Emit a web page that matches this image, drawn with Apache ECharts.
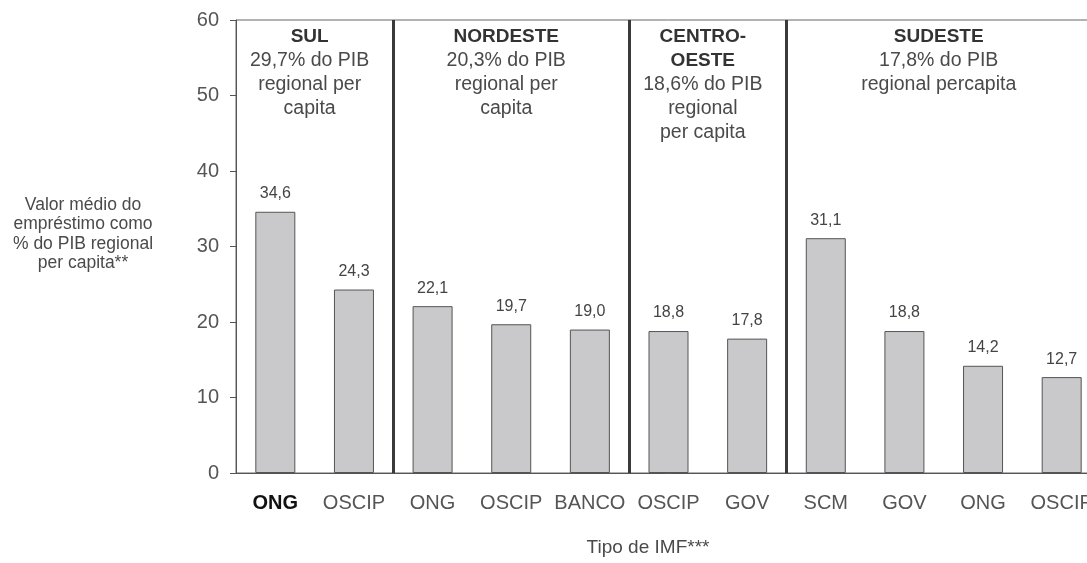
<!DOCTYPE html>
<html>
<head>
<meta charset="utf-8">
<script src="https://cdn.jsdelivr.net/npm/echarts@6/dist/echarts.min.js"></script>
<style>
  html, body { margin: 0; padding: 0; overflow: hidden; background: #fff; }
  #chart { width: 1101px; height: 563px; }
</style>
</head>
<body>
<div id="chart"></div>
<script>
// dados do grafico
var categorias = ['ONG', 'OSCIP', 'ONG', 'OSCIP', 'BANCO', 'OSCIP', 'GOV', 'SCM', 'GOV', 'ONG', 'OSCIP'];
var valores = [34.6, 24.3, 22.1, 19.7, 19.0, 18.8, 17.8, 31.1, 18.8, 14.2, 12.7];
var regioesNome = ['SUL', 'NORDESTE', 'CENTRO-\nOESTE', 'SUDESTE'];
var regioesTexto = [
    '29,7% do PIB\nregional per\ncapita',
    '20,3% do PIB\nregional per\ncapita',
    '18,6% do PIB\nregional\nper capita',
    '17,8% do PIB\nregional percapita'
];
var regioesInicio = [0, 2, 5, 7];
var regioesFim = [1, 4, 6, 10];
var divisorias = [2, 5, 7];
var eixoY = { min: 0, max: 60, intervalo: 10 };
var tituloY = 'Valor médio do\nempréstimo como\n% do PIB regional\nper capita**';
var tituloX = 'Tipo de IMF***';

var fonte = '"Liberation Sans", Arial, sans-serif';

var myChart = echarts.init(document.getElementById('chart'));

option = {
    animation: false,
    textStyle: { fontFamily: fonte },
    grid: {
        left: 236, right: 0, top: 20, bottom: 90,
        show: true,
        borderColor: '#666',
        borderWidth: 1
    },
    xAxis: {
        type: 'category',
        data: categorias,
        axisLine: { lineStyle: { color: '#555', width: 1 } },
        axisTick: { length: 6, lineStyle: { color: '#555' } },
        axisLabel: {
            interval: 0,
            margin: 20,
            fontSize: 20,
            color: '#555',
            fontFamily: fonte,
            formatter: function (v, i) {
                return i === 0 ? '{b|' + v + '}' : v;
            },
            rich: {
                b: { fontSize: 20, fontWeight: 'bold', color: '#111', fontFamily: fonte }
            }
        },
        splitLine: {
            show: true,
            interval: function (i) { return divisorias.indexOf(i) >= 0; },
            lineStyle: { color: '#3a3a3a', width: 3 }
        }
    },
    yAxis: {
        type: 'value',
        min: eixoY.min,
        max: eixoY.max,
        interval: eixoY.intervalo,
        axisLine: { show: true, lineStyle: { color: '#555', width: 1 } },
        axisTick: { show: true, length: 6, lineStyle: { color: '#555' } },
        axisLabel: { fontSize: 20, color: '#555', margin: 17, fontFamily: fonte },
        splitLine: { show: false }
    },
    series: [
        {
            type: 'bar',
            data: valores,
            barWidth: 40,
            itemStyle: { color: '#c9c9cb', borderColor: '#555', borderWidth: 1 },
            label: {
                show: true,
                position: 'top',
                distance: 10,
                fontSize: 16,
                color: '#444',
                fontFamily: fonte,
                formatter: function (p) { return p.value.toFixed(1).replace('.', ','); }
            }
        }
    ]
};

myChart.setOption(option);

// textos das regioes e titulos dos eixos
var graficos = [];
for (var i = 0; i < regioesNome.length; i++) {
    var x1 = myChart.convertToPixel({ xAxisIndex: 0 }, regioesInicio[i]);
    var x2 = myChart.convertToPixel({ xAxisIndex: 0 }, regioesFim[i]);
    var meio = (x1 + x2) / 2 - 5;
    var nomes = regioesNome[i].split('\n').map(function (s) { return '{b|' + s + '}'; }).join('\n');
    var linhas = regioesTexto[i].split('\n').map(function (s) { return '{n|' + s + '}'; }).join('\n');
    graficos.push({
        type: 'text',
        x: meio,
        y: 25,
        style: {
            text: nomes + '\n' + linhas,
            textAlign: 'center',
            textVerticalAlign: 'top',
            rich: {
                b: { fontSize: 19, fontWeight: 'bold', fill: '#333', lineHeight: 24, fontFamily: fonte },
                n: { fontSize: 19.5, fill: '#4a4a4a', lineHeight: 24, fontFamily: fonte }
            }
        }
    });
}
graficos.push({
    type: 'text',
    x: 83,
    y: 234,
    style: {
        text: tituloY,
        textAlign: 'center',
        textVerticalAlign: 'middle',
        fontSize: 17.5,
        lineHeight: 19.5,
        fill: '#4a4a4a',
        fontFamily: fonte
    }
});
graficos.push({
    type: 'text',
    x: 648,
    y: 548,
    style: {
        text: tituloX,
        textAlign: 'center',
        textVerticalAlign: 'middle',
        fontSize: 19,
        fill: '#4a4a4a',
        fontFamily: fonte
    }
});
myChart.setOption({ graphic: graficos });
</script>
</body>
</html>
